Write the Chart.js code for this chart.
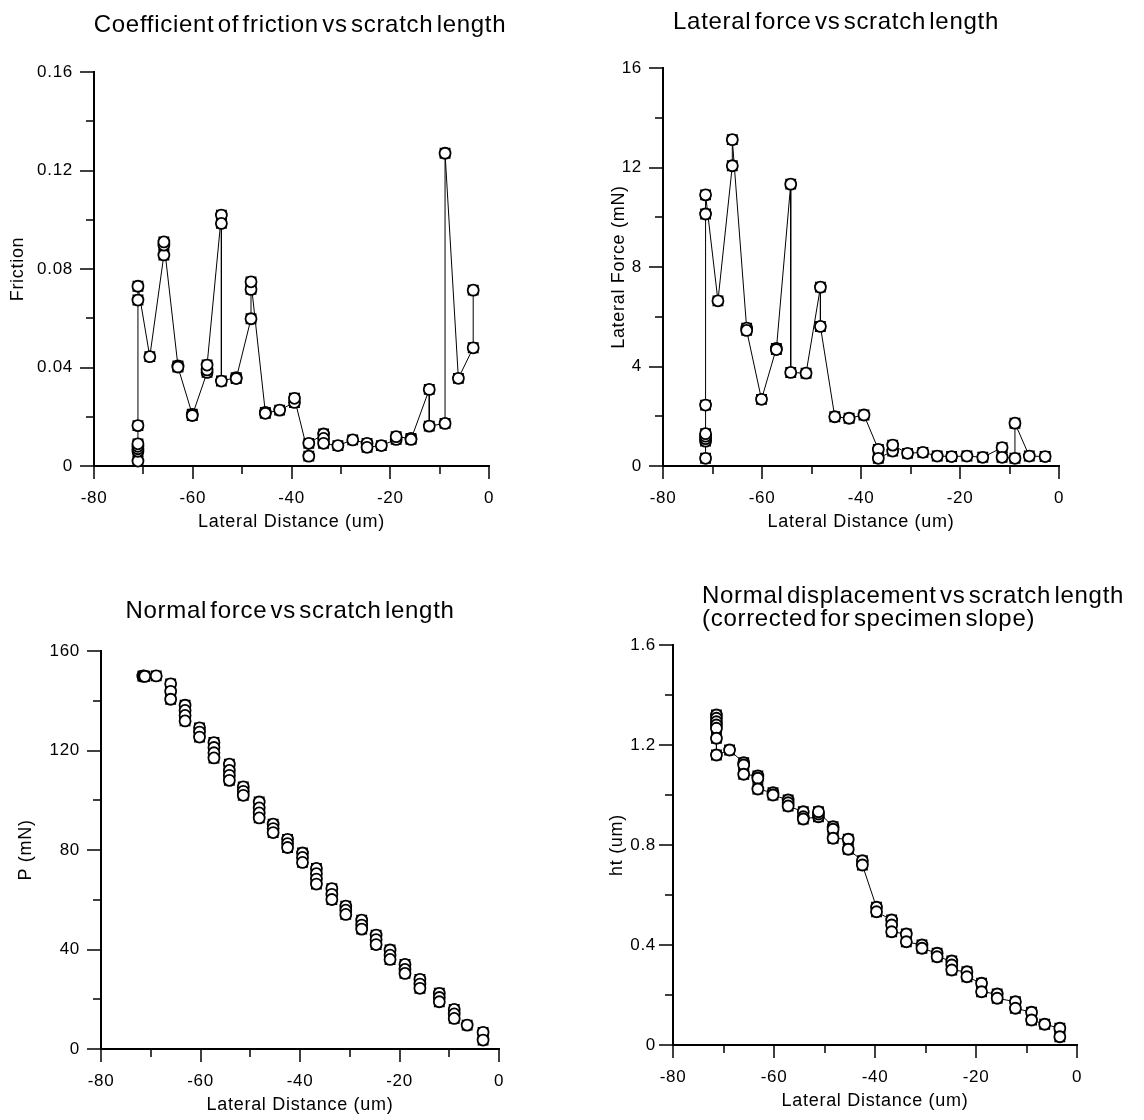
<!DOCTYPE html>
<html>
<head>
<meta charset="utf-8">
<script src="https://cdn.jsdelivr.net/npm/chart.js@4.4.1/dist/chart.umd.min.js"></script>
<style>
  html, body { margin: 0; padding: 0; background: #fff; }
  #page { position: relative; width: 1144px; height: 1120px; font-family: "Liberation Sans", Arial, sans-serif; color: #000; }
  .box { position: absolute; }
  .ttl { position: absolute; font-size: 24px; line-height: 23px; letter-spacing: 0.7px; word-spacing: -4px; white-space: nowrap; }
  .ctr { transform: translateX(-50%); }
</style>
</head>
<body>
<div id="page">
  <div class="box" style="left:0;top:0;width:572px;height:536px"><canvas id="frictionChart"></canvas></div>
  <div class="box" style="left:572px;top:0;width:572px;height:536px"><canvas id="lateralChart"></canvas></div>
  <div class="box" style="left:0;top:560px;width:572px;height:559px"><canvas id="normalChart"></canvas></div>
  <div class="box" style="left:572px;top:560px;width:572px;height:555px"><canvas id="htChart"></canvas></div>

  <div class="ttl ctr" style="left:300px;top:12px">Coefficient of friction vs scratch length</div>
  <div class="ttl ctr" style="left:836px;top:9px">Lateral force vs scratch length</div>
  <div class="ttl ctr" style="left:290px;top:598px">Normal force vs scratch length</div>
  <div class="ttl" style="left:702px;top:583px">Normal displacement vs scratch length<br>(corrected for specimen slope)</div>
</div>

<script>
/* ---------- datos ---------- */
// Coeficiente de fricción (x en um, y adimensional)
const frictionX = [-71.1, -71.1, -71.1, -71.1, -71.1, -71.1, -71.1, -71.1,
  -68.7, -65.85, -65.85, -65.85, -63.0, -63.0, -60.1, -60.1,
  -57.1, -57.1, -57.1, -54.2, -54.2, -54.2, -51.2, -51.2,
  -48.2, -48.2, -48.2, -45.3, -45.3, -42.4, -39.4, -39.4,
  -36.5, -36.5, -33.5, -33.5, -33.5, -30.6, -27.6, -24.7, -24.7,
  -21.8, -18.8, -18.8, -15.8, -15.8, -12.1, -12.1, -8.9, -8.9,
  -6.2, -3.2, -3.2];
const frictionY = [0.002, 0.006, 0.007, 0.008, 0.009, 0.0164, 0.0674, 0.073,
  0.0444, 0.0857, 0.0897, 0.091, 0.0406, 0.0402, 0.021, 0.0205,
  0.038, 0.039, 0.041, 0.1019, 0.0985, 0.0345, 0.0359, 0.0355,
  0.0598, 0.0717, 0.0748, 0.0218, 0.0214, 0.0227, 0.0258, 0.0275,
  0.004, 0.0092, 0.013, 0.0112, 0.0092, 0.0083, 0.0106, 0.0092, 0.0076,
  0.0083, 0.0108, 0.0119, 0.0112, 0.0108, 0.0311, 0.0162, 0.0173, 0.127,
  0.0356, 0.048, 0.0714];

// Fuerza lateral (mN)
const lateralX = [-71.4, -71.4, -71.4, -71.4, -71.4, -71.4, -71.4, -71.4,
  -68.9, -66.0, -66.0, -63.1, -63.1, -60.1, -57.1, -57.1,
  -54.2, -54.2, -51.1, -48.2, -48.2, -45.3, -42.4, -39.4,
  -36.5, -36.5, -33.6, -33.6, -30.6, -27.5, -24.6, -21.7,
  -18.6, -15.4, -11.5, -11.5, -8.9, -8.9, -6.0, -2.8];
const lateralY = [0.31, 1.0, 1.1, 1.2, 1.3, 2.45, 10.13, 10.9,
  6.64, 12.07, 13.12, 5.54, 5.45, 2.68, 4.73, 4.68,
  11.33, 3.76, 3.73, 7.19, 5.61, 1.98, 1.92, 2.05,
  0.67, 0.31, 0.6, 0.84, 0.51, 0.55, 0.40, 0.38,
  0.40, 0.35, 0.74, 0.35, 0.31, 1.72, 0.40, 0.38];

// Fuerza normal P (mN)
const normalX = [-71.6, -71.4, -71.2, -68.9, -66.0, -66.0, -66.0,
  -63.1, -63.1, -63.1, -63.1, -60.2, -60.2, -60.2,
  -57.3, -57.3, -57.3, -57.3, -54.2, -54.2, -54.2, -54.2,
  -51.4, -51.4, -51.4, -48.2, -48.2, -48.2, -48.2,
  -45.4, -45.4, -45.4, -42.5, -42.5, -42.5, -39.5, -39.5, -39.5,
  -36.7, -36.7, -36.7, -36.7, -33.6, -33.6, -33.6,
  -30.8, -30.8, -30.8, -27.6, -27.6, -27.6, -24.7, -24.7, -24.7,
  -21.9, -21.9, -21.9, -18.9, -18.9, -18.9, -15.9, -15.9, -15.9,
  -12.0, -12.0, -12.0, -9.0, -9.0, -9.0, -6.4, -3.2, -3.2];
const normalY = [149.9, 150.0, 149.8, 150.0, 146.8, 143.8, 140.6,
  138.2, 136.1, 134.1, 131.9, 129.1, 127.4, 125.4,
  123.2, 121.2, 119.1, 117.0, 114.5, 112.0, 110.0, 108.0,
  105.4, 103.6, 102.0, 99.3, 96.9, 94.9, 92.9,
  90.4, 88.6, 87.0, 84.3, 82.6, 81.0, 78.8, 77.0, 75.0,
  72.6, 70.5, 68.3, 66.3, 64.5, 62.2, 60.1,
  57.4, 55.8, 54.1, 51.8, 49.8, 48.2, 45.8, 44.0, 42.0,
  39.8, 37.7, 36.0, 34.0, 32.0, 30.4, 28.0, 26.1, 24.4,
  22.4, 20.7, 19.0, 15.9, 14.1, 12.3, 9.6, 6.7, 3.6];

// Desplazamiento normal ht (um)
const htX = [-71.4, -71.4, -71.4, -71.4, -71.4, -71.4, -71.4,
  -68.8, -66.0, -66.0, -66.0, -63.2, -63.2, -63.2, -60.2, -60.2,
  -57.2, -57.2, -57.2, -54.2, -54.2, -54.2, -51.2, -51.2, -51.2,
  -48.3, -48.3, -48.3, -45.3, -45.3, -42.5, -42.5, -39.7, -39.7,
  -36.7, -36.7, -36.7, -33.8, -33.8, -30.7, -30.7, -27.7, -27.7,
  -24.8, -24.8, -24.8, -21.8, -21.8, -18.9, -18.9, -15.8, -15.8,
  -12.2, -12.2, -9.0, -9.0, -6.4, -3.4, -3.4];
const htY = [1.32, 1.307, 1.293, 1.28, 1.267, 1.227, 1.16,
  1.18, 1.129, 1.12, 1.083, 1.076, 1.067, 1.024, 1.009, 1.0,
  0.98, 0.969, 0.956, 0.933, 0.913, 0.904, 0.913, 0.924, 0.933,
  0.873, 0.863, 0.827, 0.823, 0.783, 0.737, 0.72, 0.551, 0.533,
  0.5, 0.48, 0.453, 0.444, 0.413, 0.4, 0.387, 0.367, 0.353,
  0.336, 0.32, 0.3, 0.293, 0.273, 0.247, 0.213, 0.204, 0.187,
  0.173, 0.147, 0.131, 0.1, 0.083, 0.067, 0.033];

/* ---------- configuración general ---------- */
Chart.defaults.font.family = '"Liberation Sans", Arial, sans-serif';
Chart.defaults.color = '#000';
Chart.defaults.animation = false;

// espaciado de letras un poco más abierto, como en el original
const letterGap = {
  id: 'letterGap',
  beforeDraw(chart) { chart.ctx.letterSpacing = '0.7px'; }
};

// marcas de eje: principales (con etiqueta) largas, secundarias cortas
const tickMarks = {
  id: 'tickMarks',
  afterDraw(chart) {
    const ctx = chart.ctx;
    const xs = chart.scales.x, ys = chart.scales.y;
    ctx.save();
    ctx.strokeStyle = '#000';
    ctx.lineWidth = 1.5;
    xs.ticks.forEach((t, i) => {
      const px = Math.round(xs.getPixelForTick(i));
      const len = i % 2 === 0 ? 13 : 8;
      ctx.beginPath(); ctx.moveTo(px, xs.top); ctx.lineTo(px, xs.top + len); ctx.stroke();
    });
    ys.ticks.forEach((t, i) => {
      const py = Math.round(ys.getPixelForTick(i));
      const len = i % 2 === 0 ? 14 : 8;
      ctx.beginPath(); ctx.moveTo(ys.right, py); ctx.lineTo(ys.right - len, py); ctx.stroke();
    });
    ctx.restore();
  }
};

function pairs(xs, ys) {
  return xs.map((x, i) => ({ x: x, y: ys[i] }));
}

function axisX(height) {
  return {
    type: 'linear', min: -80, max: 0,
    ticks: { stepSize: 10, autoSkip: false, maxRotation: 0, padding: 9, font: { size: 17 },
      callback: (v, i) => i % 2 === 0 ? String(v) : '' },
    grid: { drawOnChartArea: false, tickLength: 13, tickColor: 'transparent' },
    border: { display: true, color: '#000', width: 2 },
    title: { display: true, text: 'Lateral Distance (um)', font: { size: 18 }, padding: { top: 0, bottom: 3 } },
    afterFit(s) { s.height = height; s.paddingLeft = 0; s.paddingRight = 0; }
  };
}

function axisY(max, step, dec, title, width, titlePad, tickPad) {
  return {
    type: 'linear', min: 0, max: max,
    ticks: { stepSize: step, autoSkip: false, padding: tickPad, font: { size: 17 },
      callback: (v, i) => i % 2 === 0 ? String(Number(v.toFixed(dec))) : '' },
    grid: { drawOnChartArea: false, tickLength: 14, tickColor: 'transparent' },
    border: { display: true, color: '#000', width: 2 },
    title: { display: true, text: title, font: { size: 18 }, padding: { top: titlePad, bottom: 0 } },
    afterFit(s) { s.width = width; s.paddingTop = 0; s.paddingBottom = 0; }
  };
}

function makeChart(id, data, withLine, yAxis, pad) {
  const pts = pairs(data[0], data[1]);
  const datasets = [];
  // círculos encima, cuadrados debajo, línea al fondo
  datasets.push({ data: pts, showLine: false, pointStyle: 'circle', pointRadius: 5.5,
    pointBackgroundColor: '#fff', pointBorderColor: '#000', pointBorderWidth: 1.8, clip: false, order: 1 });
  datasets.push({ data: pts, showLine: false, pointStyle: 'rect', pointRadius: 6.4,
    pointBackgroundColor: '#fff', pointBorderColor: '#000', pointBorderWidth: 1.8, clip: false, order: 2 });
  if (withLine) {
    datasets.push({ data: pts, showLine: true, pointRadius: 0, borderColor: '#000', borderWidth: 1,
      clip: false, order: 3 });
  }
  return new Chart(document.getElementById(id), {
    type: 'scatter',
    data: { datasets: datasets },
    options: {
      responsive: true,
      maintainAspectRatio: false,
      devicePixelRatio: 1,
      layout: { padding: pad },
      plugins: { legend: { display: false }, tooltip: { enabled: false } },
      scales: { x: axisX(70), y: yAxis }
    },
    plugins: [letterGap, tickMarks]
  });
}

makeChart('frictionChart', [frictionX, frictionY], true,
  axisY(0.16, 0.02, 2, 'Friction', 94, 7, 7), { top: 72, right: 83, left: 0, bottom: 0 });
makeChart('lateralChart', [lateralX, lateralY], true,
  axisY(16, 2, 0, 'Lateral Force (mN)', 91, 36, 7), { top: 68, right: 85, left: 0, bottom: 0 });
makeChart('normalChart', [normalX, normalY], false,
  axisY(160, 20, 0, 'P (mN)', 101, 15, 7), { top: 91, right: 73, left: 0, bottom: 0 });
makeChart('htChart', [htX, htY], true,
  axisY(1.6, 0.2, 1, 'ht (um)', 101, 34, 3), { top: 85, right: 67, left: 0, bottom: 0 });
</script>
</body>
</html>
